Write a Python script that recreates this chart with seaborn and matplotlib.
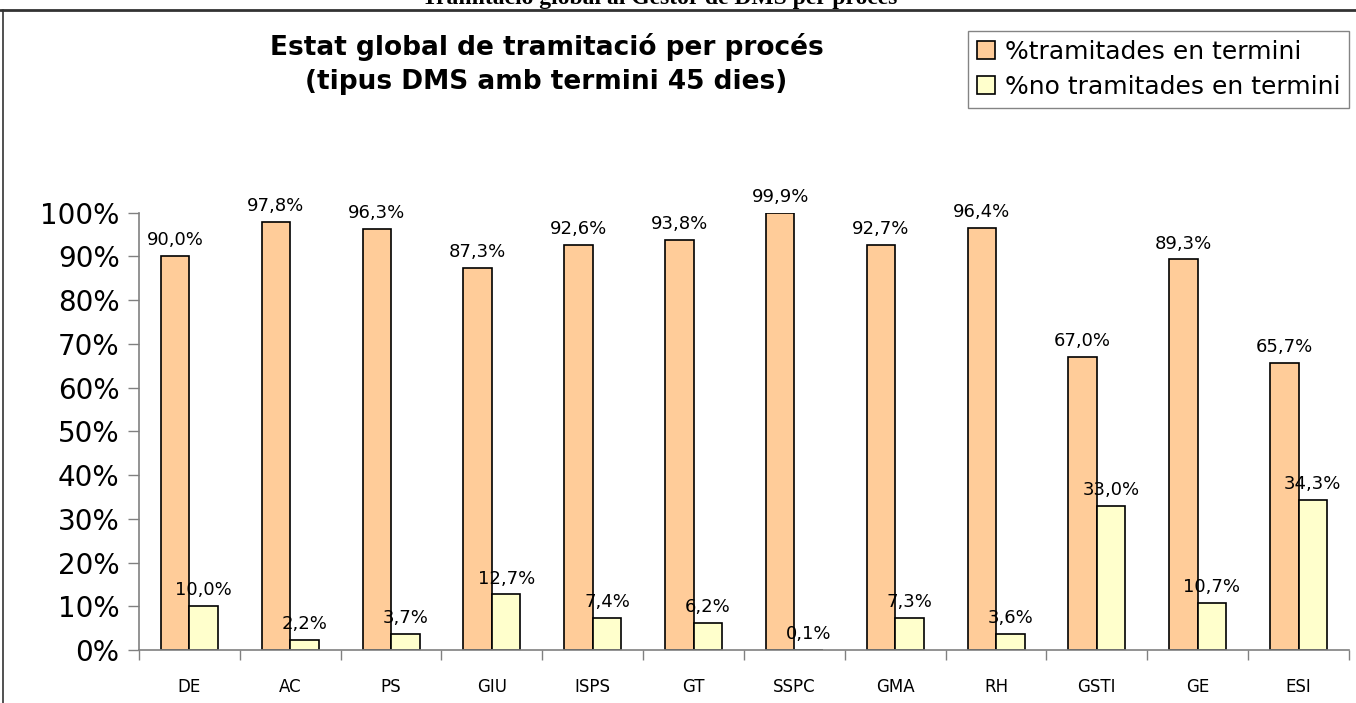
import numpy as np
import pandas as pd
import matplotlib.pyplot as plt
import seaborn as sns
from matplotlib.lines import Line2D
from matplotlib.ticker import FixedLocator, FuncFormatter

processos = ['DE', 'AC', 'PS', 'GIU', 'ISPS', 'GT', 'SSPC', 'GMA', 'RH', 'GSTI', 'GE', 'ESI']
en_termini = [90.0, 97.8, 96.3, 87.3, 92.6, 93.8, 99.9, 92.7, 96.4, 67.0, 89.3, 65.7]
no_termini = [10.0, 2.2, 3.7, 12.7, 7.4, 6.2, 0.1, 7.3, 3.6, 33.0, 10.7, 34.3]
series = ['%tramitades en termini', '%no tramitades en termini']

df = pd.DataFrame({'proces': processos * 2,
                   'valor': en_termini + no_termini,
                   'serie': [series[0]] * 12 + [series[1]] * 12})

sns.set_style('white')
plt.rcParams['font.family'] = ['DejaVu Sans']
plt.rcParams['text.color'] = 'black'

fig = plt.figure(figsize=(13.56, 7.03), dpi=100)
ax = fig.add_axes([0.1025, 0.0754, 0.8923, 0.6221])

sns.barplot(data=df, x='proces', y='valor', hue='serie', order=processos,
            palette=['#FFCC99', '#FFFFCC'], width=0.565, edgecolor='black',
            linewidth=1.2, saturation=1, ax=ax)

for cont in ax.containers:
    labs = [f'{b.get_height():.1f}%'.replace('.', ',') for b in cont]
    ax.bar_label(cont, labels=labs, padding=5, fontsize=13, color='black')

ax.set_ylim(0, 100)
ax.set_xlim(-0.5, 11.5)
ax.set_yticks(np.arange(0, 101, 10))
ax.yaxis.set_major_formatter(FuncFormatter(lambda v, p: f'{v:.0f}%'))
ax.tick_params(axis='y', labelsize=20, length=8, width=1, color='#808080', left=True, pad=6,
               labelcolor='black')
ax.tick_params(axis='x', which='major', labelsize=12, length=0, pad=20, labelcolor='black')
ax.xaxis.set_minor_locator(FixedLocator(np.arange(-0.5, 12, 1)))
ax.tick_params(axis='x', which='minor', length=7, width=1, color='#808080', bottom=True)
ax.set_xlabel('')
ax.set_ylabel('')
for s in ['top', 'right']:
    ax.spines[s].set_visible(False)
for s in ['left', 'bottom']:
    ax.spines[s].set_color('#808080')
    ax.spines[s].set_linewidth(1.2)

leg = ax.legend(loc='upper right', bbox_to_anchor=(0.9948, 0.956), bbox_transform=fig.transFigure,
                fontsize=18, frameon=True, fancybox=False, edgecolor='#666666',
                handlelength=0.7, handleheight=0.7, handletextpad=0.4,
                borderpad=0.35, labelspacing=0.45, borderaxespad=0)
leg.get_frame().set_linewidth(1)
for t in leg.get_texts():
    t.set_color('black')

fig.text(0.403, 0.933, 'Estat global de tramitació per procés', ha='center', va='center',
         fontsize=19, fontweight='bold')
fig.text(0.403, 0.883, '(tipus DMS amb termini 45 dies)', ha='center', va='center',
         fontsize=19, fontweight='bold')

fig.text(0.4867, 0.995, 'Tramitació global al Gestor de DMS per procés', ha='center',
         va='baseline', fontsize=17, fontweight='bold', family='Liberation Serif')

fig.add_artist(Line2D([0, 1], [0.986, 0.986], transform=fig.transFigure, color='#333333', lw=2))
fig.add_artist(Line2D([0.0025, 0.0025], [0.986, 0], transform=fig.transFigure, color='#333333', lw=1.2))

fig.savefig('out.png', dpi=100)
